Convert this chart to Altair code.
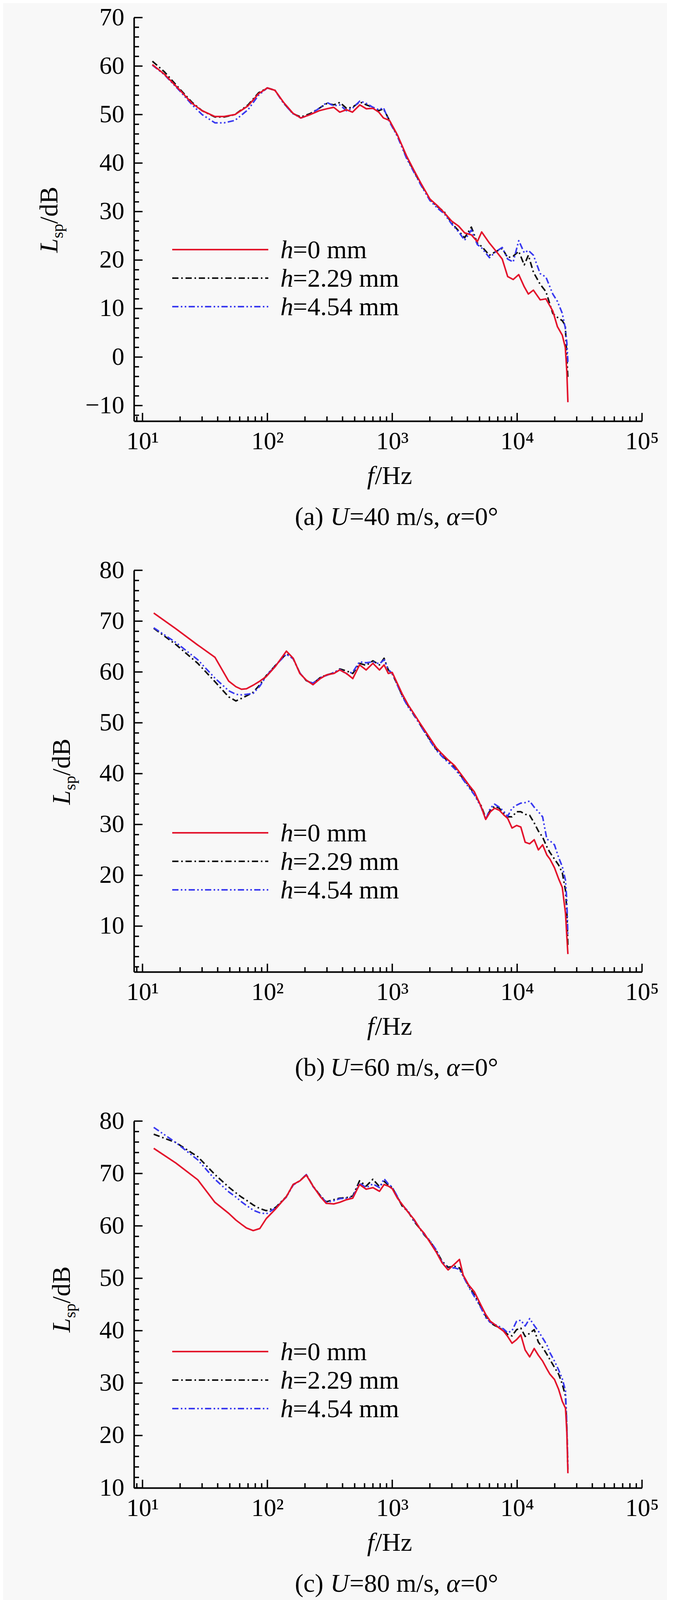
import altair as alt
import pandas as pd

FONT = "Liberation Serif"
RED = "#e3132c"
BLACK = "#111111"
BLUE = "#3a3af0"

# ---------------- data ----------------
# (a) U = 40 m/s
freq_a = [12, 15, 20, 25, 30, 38, 45, 55, 70, 85,
          100, 115, 135, 160, 185, 220, 260, 300, 340, 380,
          430, 480, 550, 620, 700, 780, 850, 950, 1100, 1300,
          1500, 1700, 2000, 2300, 2600, 3000, 3400, 3800, 4300, 4800,
          5200, 6000, 6800, 7600, 8400, 9300, 10300, 11400, 12300, 13500,
          15300, 17000, 19300, 21000, 23000, 24300, 25000, 25500]
lsp_a_h0 = [60.3, 58.3, 55.0, 52.3, 50.8, 49.6, 49.6, 50.0, 51.8, 54.3,
            55.5, 55.0, 52.5, 50.3, 49.3, 50.0, 50.8, 51.2, 51.5, 50.5,
            51.0, 50.5, 52.0, 51.2, 51.3, 50.5, 49.3, 48.8, 45.8, 41.5,
            38.4, 35.8, 32.6, 31.2, 29.8, 28.0, 27.0, 25.6, 25.2, 23.8,
            25.8, 23.5, 21.8, 20.2, 16.6, 16.0, 17.0, 14.5, 13.0, 13.8,
            11.8, 12.0, 9.5, 6.3, 4.5, 2.0, -3.0, -9.3]
lsp_a_h229 = [61.0, 58.8, 55.2, 52.5, 50.8, 49.5, 49.5, 50.0, 52.0, 54.5,
              55.5, 55.0, 52.4, 50.2, 49.5, 50.2, 51.3, 52.3, 52.0, 52.5,
              51.3, 51.5, 52.6, 52.0, 51.5, 50.8, 51.2, 48.8, 45.6, 41.3,
              38.2, 35.6, 32.5, 31.0, 30.0, 27.6, 26.0, 24.6, 26.8, 23.5,
              22.8, 21.0, 21.8, 22.4, 20.5, 20.8, 21.8, 19.0, 21.0, 17.5,
              15.0, 13.5, 9.0, 8.2, 7.5, 6.5, 0.0, -4.5]
lsp_a_h454 = [60.2, 58.2, 54.8, 52.0, 50.0, 48.3, 48.3, 48.8, 51.0, 54.0,
              55.5, 55.0, 52.3, 50.2, 49.3, 50.0, 51.3, 52.5, 51.8, 52.0,
              50.8, 51.3, 52.8, 52.3, 51.5, 51.0, 51.4, 48.5, 45.5, 41.0,
              38.0, 35.4, 32.3, 30.7, 29.6, 27.4, 25.8, 24.1, 26.2, 23.2,
              22.5, 20.5, 21.8, 22.6, 20.2, 19.6, 24.0, 21.5, 22.0, 21.0,
              17.2, 16.5, 13.0, 11.5, 9.0, 6.0, 3.0, -1.0]

# (b) U = 60 m/s and (c) U = 80 m/s share one frequency list
freq_bc = [12.3, 18.5, 27.7, 38, 49, 56, 62, 68, 77, 87,
           98, 116, 142, 161, 182, 205, 232, 265, 296, 340,
           380, 430, 483, 547, 618, 700, 790, 860, 930, 1000,
           1100, 1200, 1350, 1500, 1650, 1800, 2000, 2250, 2500, 2800,
           3150, 3450, 3700, 4100, 4550, 5150, 5600, 6100, 6600, 7200,
           7800, 8400, 9100, 9900, 10700, 11600, 12600, 13700, 14800, 16000,
           17300, 18300, 19900, 21500, 23000, 24400, 25000, 25500]
lsp_b_h0 = [71.6, 68.5, 65.3, 62.9, 58.2, 57.1, 56.6, 56.7, 57.4, 58.2,
            59.1, 61.1, 64.1, 62.7, 59.7, 58.4, 57.5, 58.7, 59.4, 59.7,
            60.4, 59.7, 58.7, 61.4, 60.4, 61.7, 60.4, 61.4, 59.7, 59.9,
            57.7, 55.7, 53.4, 51.7, 50.1, 48.7, 47.0, 45.1, 43.9, 42.7,
            41.6, 40.3, 39.3, 37.8, 36.4, 33.5, 31.0, 32.5, 33.2, 32.8,
            31.9, 31.2, 29.3, 29.8, 29.5, 26.5, 26.2, 27.0, 25.0, 26.0,
            24.0, 23.2, 21.5, 19.3, 17.6, 12.5, 8.0, 4.5]
lsp_b_h229 = [68.6, 65.4, 61.7, 58.1, 55.1, 54.3, 54.8, 55.3, 56.0, 57.5,
              59.3, 61.3, 63.6, 62.6, 59.8, 58.3, 57.7, 58.9, 59.4, 59.8,
              60.6, 60.2, 59.7, 61.7, 61.3, 62.2, 61.4, 62.7, 60.4, 59.6,
              57.5, 55.4, 53.2, 51.4, 49.9, 48.4, 46.7, 44.8, 43.6, 42.4,
              41.3, 40.0, 39.0, 37.6, 36.0, 33.7, 31.3, 32.8, 33.6, 33.2,
              32.2, 31.5, 31.5, 32.5, 32.5, 32.0, 31.8, 30.3, 28.7, 27.5,
              25.6, 24.5, 23.2, 22.0, 20.5, 17.0, 13.0, 6.0]
lsp_b_h454 = [68.7, 65.8, 62.4, 58.8, 56.3, 55.6, 55.5, 55.6, 55.8, 57.2,
              59.2, 61.3, 63.5, 62.6, 59.8, 58.3, 57.8, 58.9, 59.3, 59.9,
              60.5, 59.6, 60.0, 62.0, 61.8, 62.0, 61.6, 62.4, 60.5, 59.7,
              57.4, 55.2, 53.0, 51.5, 49.8, 48.3, 46.5, 44.6, 43.4, 42.2,
              41.0, 39.8, 38.8, 37.3, 35.8, 33.4, 31.0, 33.2, 34.0, 33.4,
              32.6, 31.6, 33.2, 33.8, 34.2, 34.3, 34.6, 33.4, 32.5, 31.5,
              27.1, 26.8, 26.0, 23.5, 21.7, 19.0, 15.0, 8.0]
lsp_c_h0 = [74.8, 72.0, 68.8, 64.5, 62.4, 61.1, 60.3, 59.6, 59.1, 59.5,
            61.4, 63.2, 65.6, 67.9, 68.6, 69.7, 67.6, 65.6, 64.3, 64.2,
            64.5, 65.0, 65.3, 67.9, 67.0, 67.3, 66.6, 67.9, 67.6, 67.1,
            65.3, 64.1, 62.5, 61.2, 59.6, 58.6, 56.9, 55.0, 53.0, 51.6,
            52.7, 53.6, 50.6, 48.7, 47.4, 44.8, 43.1, 41.8, 41.2, 40.5,
            39.9, 38.9, 37.6, 38.3, 39.2, 36.3, 35.0, 36.6, 35.3, 34.2,
            32.7, 31.7, 30.7, 28.8, 26.5, 25.2, 20.6, 12.8]
lsp_c_h229 = [77.5, 75.9, 73.2, 69.8, 67.4, 66.3, 65.5, 64.9, 64.0, 63.3,
              62.9, 63.5, 65.6, 67.9, 68.6, 69.8, 67.6, 65.8, 64.6, 65.0,
              65.3, 65.4, 65.7, 68.6, 67.6, 68.9, 67.5, 68.5, 67.8, 67.3,
              65.5, 63.8, 62.6, 60.8, 59.6, 58.3, 57.1, 55.3, 53.3, 52.1,
              52.3, 52.0, 50.5, 48.5, 46.8, 44.5, 42.8, 41.5, 41.0, 40.6,
              40.0, 39.3, 39.0, 40.2, 40.5, 38.9, 39.5, 40.2, 37.8, 36.8,
              35.5, 34.5, 33.0, 31.7, 29.8, 27.5, 21.5, 13.5]
lsp_c_h454 = [78.8, 75.9, 72.6, 68.9, 66.5, 65.5, 64.6, 63.9, 63.0, 62.5,
              62.3, 63.4, 65.5, 67.8, 68.6, 69.8, 67.5, 65.8, 64.5, 64.8,
              65.2, 65.3, 65.5, 68.2, 67.3, 68.0, 67.3, 69.0, 68.0, 67.4,
              65.6, 64.0, 62.7, 61.0, 59.7, 58.4, 57.2, 55.4, 53.1, 51.9,
              52.0, 51.7, 50.4, 48.3, 46.5, 44.3, 42.5, 41.6, 41.2, 40.8,
              40.3, 39.6, 40.0, 41.8, 42.0, 40.9, 42.3, 41.0, 39.9, 38.6,
              37.3, 35.8, 34.2, 32.5, 30.8, 28.5, 22.0, 14.0]

legend_labels = ["=0 mm", "=2.29 mm", "=4.54 mm"]
x_decades = [10, 100, 1000, 10000, 100000]
x_minor = [m * 10 ** k for k in range(0, 5) for m in range(2, 10) if m * 10 ** k > 8.6]

# solid red, dash-dot black, dash-dot-dot blue
STYLES = [
    {"color": RED, "dash": None},
    {"color": BLACK, "dash": [16, 7, 4, 7]},
    {"color": BLUE, "dash": [16, 6, 4, 6, 4, 6]},
]

W = 1301
K = 0.91          # vertical squeeze so the three panels fit the photographed page
GAP = round(420 * K)


def text_piece(txt, x, y, size=66, italic=False, angle=0):
    props = dict(font=FONT, fontSize=size, color="black", align="left", baseline="alphabetic")
    if italic:
        props["fontStyle"] = "italic"
    if angle:
        props["angle"] = angle
    return alt.Chart(pd.DataFrame({"t": [txt]})).mark_text(**props).encode(
        text="t:N", x=alt.value(x), y=alt.value(y))


def panel(letter, speed, freqs, series, ydom, height, ymajor, yminor, legend_y, ytitle_x, ytitle_bottom):
    xscale = alt.Scale(type="log", domain=[8.54, 100000], nice=False)
    yscale = alt.Scale(domain=ydom, nice=False, zero=False)

    xaxis = alt.Axis(values=x_decades, title=None, ticks=False, tickSize=0, grid=False,
                     domainColor="black", domainWidth=4,
                     labelExpr="datum.value == 10 ? '10¹' : datum.value == 100 ? '10²' : "
                               "datum.value == 1000 ? '10³' : datum.value == 10000 ? '10⁴' : '10⁵'",
                     labelFont=FONT, labelFontSize=64, labelColor="black", labelPadding=20,
                     labelFlush=False, labelOverlap=False)
    yaxis = alt.Axis(values=ymajor, title=None, ticks=False, tickSize=0, grid=False,
                     domainColor="black", domainWidth=4, format="d",
                     labelFont=FONT, labelFontSize=64, labelColor="black", labelPadding=25,
                     labelFlush=False, labelOverlap=False)

    layers = []
    # spectra: black, blue, then red on top
    for i in [1, 2, 0]:
        st = STYLES[i]
        kw = dict(color=st["color"], strokeWidth=4, strokeJoin="round")
        if st["dash"]:
            kw["strokeDash"] = st["dash"]
        df = pd.DataFrame({"f": freqs, "L": series[i]})
        layers.append(alt.Chart(df).mark_line(**kw).encode(
            x=alt.X("f:Q", scale=xscale, axis=xaxis),
            y=alt.Y("L:Q", scale=yscale, axis=yaxis)))

    # inward ticks
    for vals, length in [(ymajor, 22), (yminor, 13)]:
        layers.append(alt.Chart(pd.DataFrame({"L": vals})).mark_rule(color="black", strokeWidth=3.5).encode(
            y=alt.Y("L:Q", scale=yscale, axis=yaxis), x=alt.value(0), x2=alt.value(length)))
    for vals, length in [(x_decades, 21), (x_minor, 12)]:
        layers.append(alt.Chart(pd.DataFrame({"f": vals})).mark_rule(color="black", strokeWidth=3.5).encode(
            x=alt.X("f:Q", scale=xscale, axis=xaxis), y=alt.value(height), y2=alt.value(height - length)))

    # legend
    for i, st in enumerate(STYLES):
        ly = legend_y + round(80 * K) * i
        kw = dict(color=st["color"], strokeWidth=4)
        if st["dash"]:
            kw["strokeDash"] = st["dash"]
        layers.append(alt.Chart(pd.DataFrame({"k": [0]})).mark_rule(**kw).encode(
            x=alt.value(98), x2=alt.value(344), y=alt.value(ly)))
        layers.append(text_piece("h", 375, ly + 22, italic=True))
        layers.append(text_piece(legend_labels[i], 407, ly + 22))

    # y title  L_sp/dB (rotated)
    layers.append(text_piece("L", ytitle_x, ytitle_bottom, italic=True, angle=270))
    layers.append(text_piece("sp", ytitle_x + 14, ytitle_bottom - 37, size=42, angle=270))
    layers.append(text_piece("/dB", ytitle_x, ytitle_bottom - 74, angle=270))

    # x title  f/Hz
    layers.append(text_piece("f", 597, height + round(177 * K), italic=True))
    layers.append(text_piece("/Hz", 617, height + round(177 * K)))

    # caption
    cy = height + round(292 * K)
    layers.append(text_piece("(" + letter + ")", 412, cy))
    layers.append(text_piece("U", 503, cy, italic=True))
    layers.append(text_piece("=%d m/s," % speed, 552, cy))
    layers.append(text_piece("α", 800, cy, italic=True))
    layers.append(text_piece("=0°", 836, cy))

    return alt.layer(*layers).properties(width=W, height=height)


pa = panel("a", 40, freq_a, [lsp_a_h0, lsp_a_h229, lsp_a_h454], [-13.2, 70], round(1135 * K),
           [-10, 0, 10, 20, 30, 40, 50, 60, 70], [v for v in range(-12, 70, 2) if v % 10],
           round(653 * K), -196, round(569 * K) + 84)
pb = panel("b", 60, freq_bc, [lsp_b_h0, lsp_b_h229, lsp_b_h454], [1, 80], round(1130 * K),
           [10, 20, 30, 40, 50, 60, 70, 80], [v for v in range(2, 80, 2) if v % 10],
           round(739 * K), -164, round(567 * K) + 84)
pc = panel("c", 80, freq_bc, [lsp_c_h0, lsp_c_h229, lsp_c_h454], [10, 80], round(1032 * K),
           [10, 20, 30, 40, 50, 60, 70, 80], [v for v in range(12, 80, 2) if v % 10],
           round(648 * K), -164, round(502 * K) + 84)

chart = alt.vconcat(pa, pb, pc, spacing=GAP, bounds="flush").properties(
    background="#f8f8f8",
    padding={"left": 86, "top": 5, "right": 20, "bottom": 285},
).configure_view(stroke=None)

chart.save("out.html", embed_options={"renderer": "svg", "actions": False})
